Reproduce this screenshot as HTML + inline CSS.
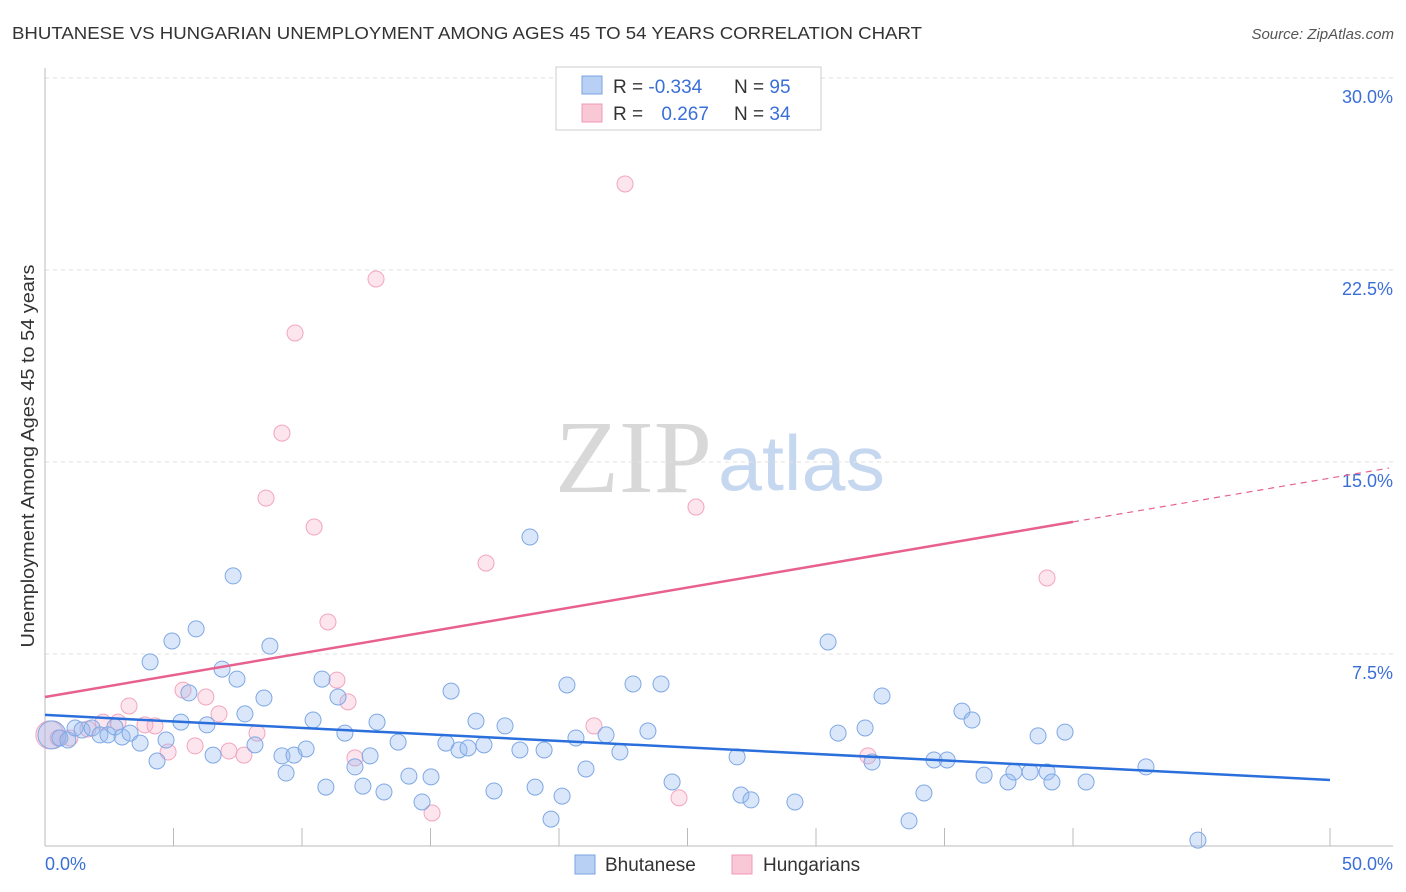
<!DOCTYPE html>
<html><head><meta charset="utf-8"><style>
body{margin:0;background:#fff;font-family:"Liberation Sans",sans-serif;}
#wrap{position:relative;width:1406px;height:892px;overflow:hidden;}
</style></head><body>
<div id="wrap">
<svg id="svg" width="1406" height="892" xmlns="http://www.w3.org/2000/svg">
<text x="12" y="39" font-size="17.5" fill="#333" textLength="910" lengthAdjust="spacingAndGlyphs">BHUTANESE VS HUNGARIAN UNEMPLOYMENT AMONG AGES 45 TO 54 YEARS CORRELATION CHART</text>
<text x="1394" y="39" font-size="15" fill="#555" font-style="italic" text-anchor="end">Source: ZipAtlas.com</text>
<text x="555" y="492" font-size="104" fill="#d8d8d8" font-family="Liberation Serif,serif" textLength="157" lengthAdjust="spacingAndGlyphs">ZIP</text>
<text x="718" y="490" font-size="78" fill="#c6d8f0" textLength="167" lengthAdjust="spacingAndGlyphs">atlas</text>
<text transform="translate(34,456) rotate(-90)" font-size="18" fill="#333" text-anchor="middle" textLength="383" lengthAdjust="spacingAndGlyphs">Unemployment Among Ages 45 to 54 years</text>
<g id="grid"></g><g id="marks"></g>
<g>
<rect x="556" y="67" width="265" height="63" fill="#fff" stroke="#ccc"/>
<rect x="582" y="76" width="20" height="18" fill="#b8d0f4" stroke="#7aa3e0"/>
<rect x="582" y="104" width="20" height="18" fill="#f9c8d6" stroke="#f09ab5"/>
<text x="613" y="93" font-size="19" fill="#333">R = <tspan fill="#3a6fd8">-0.334</tspan></text>
<text x="734" y="93" font-size="19" fill="#333">N = <tspan fill="#3a6fd8">95</tspan></text>
<text x="613" y="120" font-size="19" fill="#333">R = <tspan fill="#3a6fd8" dx="13">0.267</tspan></text>
<text x="734" y="120" font-size="19" fill="#333">N = <tspan fill="#3a6fd8">34</tspan></text>
</g>
<g>
<rect x="575" y="855" width="20" height="19" fill="#b8d0f4" stroke="#7aa3e0"/>
<text x="605" y="871" font-size="19" fill="#333">Bhutanese</text>
<rect x="732" y="855" width="20" height="19" fill="#f9c8d6" stroke="#f09ab5"/>
<text x="763" y="871" font-size="19" fill="#333">Hungarians</text>
</g>
</svg>
</div>
<script>
const yTicks=[7.5,15,22.5,30];
const yTickLabels=["7.5%","15.0%","22.5%","30.0%"];
const xTicks=[5,10,15,20,25,30,35,40,45,50];
const blueX=[0.27,0.58,0.89,1.17,1.44,1.83,2.14,2.45,2.72,3.0,3.31,3.7,4.09,4.36,4.71,4.94,5.29,5.6,5.88,6.3,6.54,6.89,7.32,7.47,7.78,8.17,8.52,8.75,9.22,9.38,9.69,10.16,10.43,10.78,10.93,11.4,11.67,12.06,12.37,12.65,12.92,13.19,13.74,14.16,14.67,15.02,15.6,15.8,16.11,16.46,16.77,17.08,17.47,17.9,18.48,18.87,19.07,19.42,19.69,20.12,20.31,20.66,21.05,21.83,22.37,22.88,23.46,23.97,24.4,26.93,27.08,27.47,29.18,30.47,30.86,31.91,32.18,32.57,33.62,34.2,34.59,35.1,35.68,36.07,36.54,37.47,37.7,38.33,38.64,38.99,39.18,39.69,40.51,42.84,44.86];
const blueY=[4.34,4.22,4.14,4.61,4.53,4.61,4.34,4.34,4.65,4.26,4.41,4.02,7.19,3.32,4.14,8.01,4.84,5.98,8.48,4.73,3.55,6.91,10.55,6.52,5.16,3.95,5.78,7.81,3.52,2.85,3.55,3.79,4.92,6.52,2.3,5.82,4.41,3.09,2.34,3.52,4.84,2.11,4.06,2.73,1.72,2.7,4.02,6.05,3.75,3.83,4.88,3.95,2.15,4.69,3.75,12.07,2.3,3.75,1.05,1.95,6.29,4.22,3.01,4.34,3.67,6.33,4.49,6.33,2.5,3.48,1.99,1.8,1.72,7.97,4.41,4.61,3.28,5.86,0.98,2.07,3.36,3.36,5.27,4.92,2.77,2.5,2.89,2.89,4.3,2.89,2.5,4.45,2.5,3.09,0.23];
const pinkX=[0.19,0.51,0.97,1.67,2.26,2.84,3.27,3.89,4.28,4.79,5.37,5.84,6.26,6.77,7.16,7.74,8.25,8.6,9.22,9.73,10.47,11.01,11.36,11.79,12.06,12.88,15.06,17.16,21.36,22.57,24.67,25.33,32.02,38.99];
const pinkY=[4.34,4.22,4.22,4.57,4.84,4.84,5.47,4.73,4.69,3.67,6.09,3.91,5.82,5.16,3.71,3.55,4.41,13.59,16.13,20.04,12.46,8.75,6.48,5.63,3.44,22.15,1.29,11.05,4.69,25.86,1.88,13.24,3.52,10.47];
const blueTrend=[5.12,-0.0508];
const pinkTrend=[5.82,0.171];
const NS="http://www.w3.org/2000/svg";
const sx=v=>45+v*25.7, sy=v=>846-v*25.6;
const grid=document.getElementById('grid'), marks=document.getElementById('marks');
function mk(tag,attrs,parent){const e=document.createElementNS(NS,tag);for(const k in attrs)e.setAttribute(k,attrs[k]);parent.appendChild(e);return e;}
yTicks.forEach((t,i)=>{
 const l=mk('line',{x1:45,x2:1393,y1:sy(t),y2:sy(t),stroke:'#e2e2e2','stroke-dasharray':'4,4'},grid);
 
 
 const tx=mk('text',{x:1393,y:sy(t)+25,'font-size':18,fill:'#3a6fd8','text-anchor':'end'},grid);
 tx.textContent=yTickLabels[i];
 
 
});
const ax=mk('line',{x1:45,x2:45,y1:68,y2:846,stroke:'#bbb'},grid);


const bx=mk('line',{x1:45,x2:1393,y1:846,y2:846,stroke:'#bbb'},grid);


xTicks.forEach(t=>{
 const l=mk('line',{x1:sx(t),x2:sx(t),y1:828,y2:846,stroke:'#bbb'},grid);
 
 
});
[[0,"0.0%",45,'start'],[50,"50.0%",1393,'end']].forEach(a=>{
 const tx=mk('text',{x:a[2],y:870,'font-size':18,fill:'#3a6fd8','text-anchor':a[3]},grid);
 tx.textContent=a[1];
 
 
});
function dots(X,Y,fill,stroke,name){
 X.forEach((x,i)=>{
  const c=mk('circle',{cx:sx(x),cy:sy(Y[i]),r:i===0?14:8,fill:fill,stroke:stroke,'stroke-width':1},marks);
  
  
 });
}
dots(pinkX,pinkY,'rgba(245,170,195,0.3)','#f2a5bf','hungarian-point');
dots(blueX,blueY,'rgba(150,185,240,0.35)','#7fa8e4','bhutanese-point');
const bl=mk('line',{x1:sx(0),y1:sy(blueTrend[0]),x2:sx(50),y2:sy(blueTrend[0]+50*blueTrend[1]),stroke:'#2a6fdb','stroke-width':2.5},marks);


const pl=mk('line',{x1:sx(0),y1:sy(pinkTrend[0]),x2:sx(40),y2:sy(pinkTrend[0]+40*pinkTrend[1]),stroke:'#e8608f','stroke-width':2.5},marks);


const pd=mk('line',{x1:sx(40),y1:sy(pinkTrend[0]+40*pinkTrend[1]),x2:sx(52.3),y2:sy(pinkTrend[0]+52.3*pinkTrend[1]),stroke:'#e8608f','stroke-width':1.2,'stroke-dasharray':'6,5'},marks);


</script>
</body></html>
